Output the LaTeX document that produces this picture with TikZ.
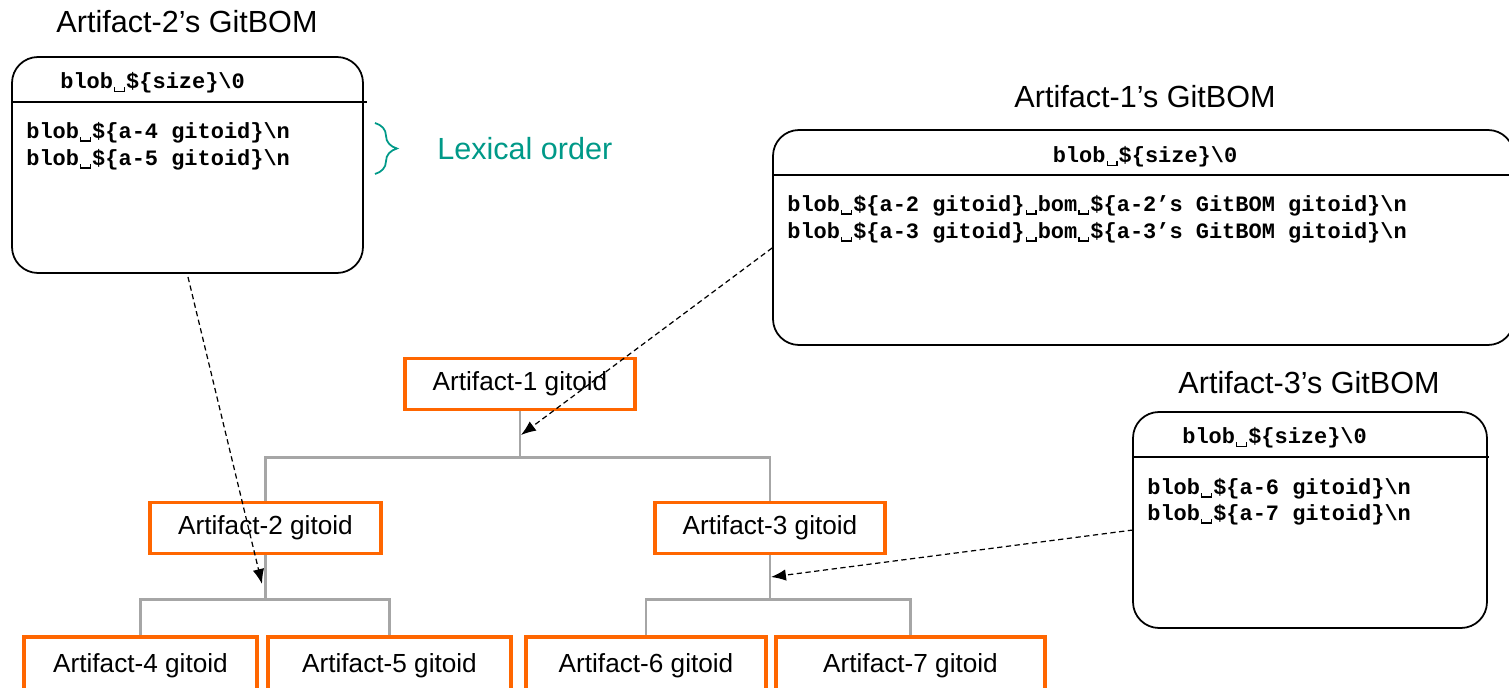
\documentclass[tikz,border=0pt]{standalone}
\usepackage{fontspec}
\setmainfont{Liberation Sans}
\setmonofont{Liberation Mono}
\usetikzlibrary{fit,calc,arrows.meta,decorations.pathreplacing}
\definecolor{gborange}{RGB}{255,102,0}
\definecolor{gbgray}{RGB}{166,166,166}
\definecolor{gbteal}{RGB}{0,153,136}
% visible-space mark used inside the blob headers
\newcommand\vsp{\leavevmode\raisebox{-0.14em}{\hbox to 0.6em{\hfil\vrule width .06em height .22em\vrule width .38em height .06em\vrule width .06em height .22em\hfil}}}
\newcommand\bsl{\char92 }
\begin{document}
\begin{tikzpicture}[x=0.02cm,y=-0.02cm,
  gbox/.style={draw, line width=1pt, rounded corners=0.52cm, inner sep=0pt},
  hdrline/.style={line width=1pt},
  monob/.style={font=\ttfamily\bfseries\fontsize{12.5}{15}\selectfont, anchor=west, inner sep=0pt},
  title/.style={font=\fontsize{17.4}{21}\selectfont, inner sep=0pt},
  art/.style={draw=gborange, line width=2.1pt, minimum height=1.02cm, inner sep=0pt,
    font=\fontsize{14.9}{18}\selectfont},
  tree/.style={draw=gbgray, line width=1.7pt},
  dasharrow/.style={line width=0.7pt, dash pattern=on 3pt off 2pt,
    -{Latex[length=8.5pt,width=6.5pt]}}]
\useasboundingbox (0,0) rectangle (1509,688);

% ---- GitBOM of artifact 2 ----
\node[title] (tA) at (187,22) {Artifact-2’s GitBOM};
\node[gbox, fit={(12,57) (363,273)}] (bomA) {};
\draw[hdrline] (12,102) -- (367,102);
\node[monob] (hA) at (60,83) {blob\vsp\$\{size\}\bsl 0};
\node[monob] (lA1) at (26,133) {blob\vsp\$\{a-4 gitoid\}\bsl n};
\node[monob] (lA2) at (26,160) {blob\vsp\$\{a-5 gitoid\}\bsl n};
\draw[gbteal, line width=1pt, decorate, decoration={brace, amplitude=0.44cm}]
  (375,123) -- (375,174);
\node[font=\fontsize{17.4}{21}\selectfont, text=gbteal, anchor=west, inner sep=0pt]
  (lex) at (437,149) {Lexical order};

% ---- GitBOM of artifact 1 ----
\node[title] (tB) at (1145,97) {Artifact-1’s GitBOM};
\node[gbox, fit={(773,130) (1514,345)}] (bomB) {};
\draw[hdrline] (773,175) -- (1514,175);
\node[monob, anchor=center] (hB) at (1145,157) {blob\vsp\$\{size\}\bsl 0};
\node[monob] (lB1) at (787,206) {blob\vsp\$\{a-2 gitoid\}\vsp bom\vsp\$\{a-2’s GitBOM gitoid\}\bsl n};
\node[monob] (lB2) at (787,233) {blob\vsp\$\{a-3 gitoid\}\vsp bom\vsp\$\{a-3’s GitBOM gitoid\}\bsl n};

% ---- GitBOM of artifact 3 ----
\node[title] (tC) at (1309,383) {Artifact-3’s GitBOM};
\node[gbox, fit={(1133,412) (1487,628)}] (bomC) {};
\draw[hdrline] (1133,457) -- (1489,457);
\node[monob] (hC) at (1182,438) {blob\vsp\$\{size\}\bsl 0};
\node[monob] (lC1) at (1147,489) {blob\vsp\$\{a-6 gitoid\}\bsl n};
\node[monob] (lC2) at (1147,515) {blob\vsp\$\{a-7 gitoid\}\bsl n};

% ---- artifact tree ----
\node[art, minimum width=4.6cm]  (n1) at (520,384) {Artifact-1 gitoid};
\node[art, minimum width=4.62cm] (n2) at (265.5,528) {Artifact-2 gitoid};
\node[art, minimum width=4.6cm]  (n3) at (770,528) {Artifact-3 gitoid};
\node[art, minimum width=4.66cm, minimum height=1.14cm] (n4) at (140.5,665.5) {Artifact-4 gitoid};
\node[art, minimum width=4.86cm, minimum height=1.14cm] (n5) at (389.5,665.5) {Artifact-5 gitoid};
\node[art, minimum width=4.8cm,  minimum height=1.14cm] (n6) at (646,665.5) {Artifact-6 gitoid};
\node[art, minimum width=5.38cm, minimum height=1.14cm] (n7) at (910.5,665.5) {Artifact-7 gitoid};

\draw[tree] (n1.south) -- ++(0,46) -| (n2.north);
\draw[tree] (n1.south) -- ++(0,46) -| (n3.north);
\draw[tree] (n2.south) -- ++(0,44) -| (n4.north);
\draw[tree] (n2.south) -- ++(0,44) -| (n5.north);
\draw[tree] (n3.south) -- ++(0,44) -| (n6.north);
\draw[tree] (n3.south) -- ++(0,44) -| (n7.north);

% ---- references from each GitBOM into the tree ----
\coordinate (pA) at (188,277);
\coordinate (pB) at ($(bomB.west)+(0,10.5)$);
\coordinate (pC) at (1133,530);
\coordinate (qA) at (262,584);
\coordinate (qB) at (521,435);
\coordinate (qC) at (771,577);
\draw[dasharrow] (pA) -- (qA);
\draw[dasharrow] (pB) -- (qB);
\draw[dasharrow] (pC) -- (qC);
\end{tikzpicture}
\end{document}
